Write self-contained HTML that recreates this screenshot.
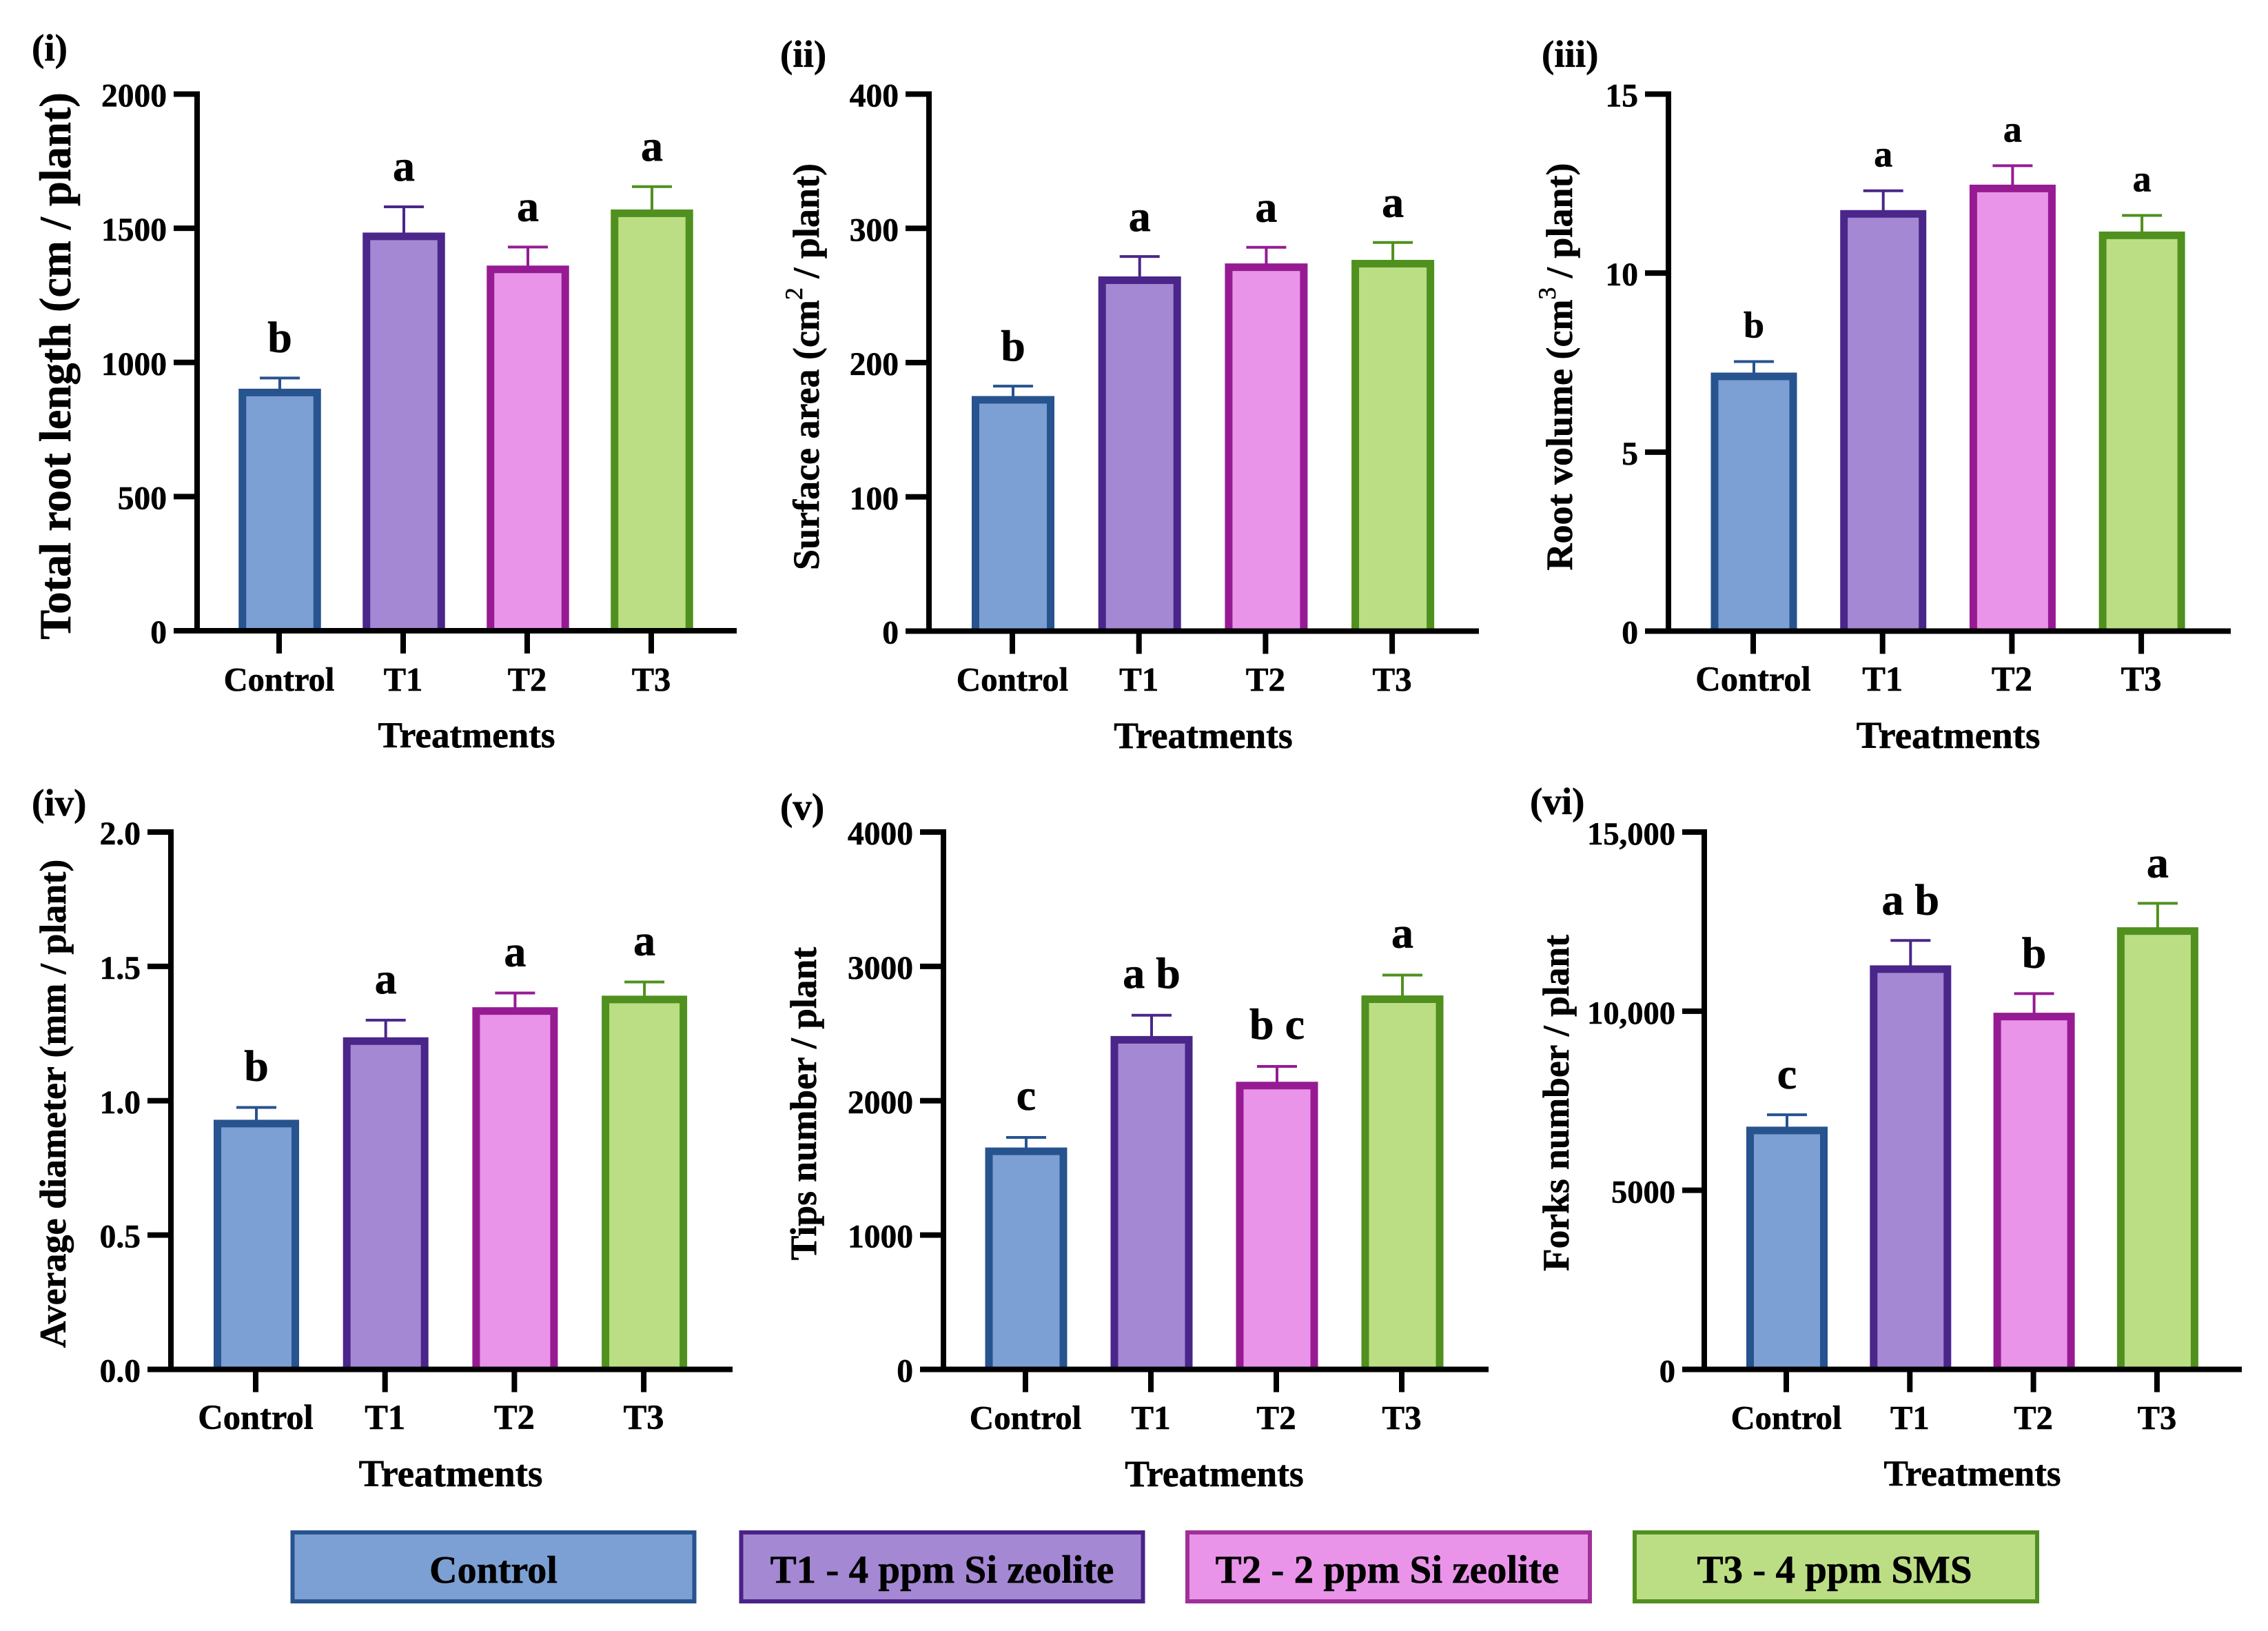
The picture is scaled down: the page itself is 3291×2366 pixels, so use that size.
<!DOCTYPE html>
<html lang="en">
<head>
<meta charset="utf-8">
<title>Root traits by treatment</title>
<style>
html,body{margin:0;padding:0;background:#fff;}
svg{display:block;}
text{font-family:"Liberation Serif",serif;font-weight:bold;fill:#000;stroke:#000;stroke-width:0.6px;}
</style>
</head>
<body>
<svg id="figure" xmlns="http://www.w3.org/2000/svg" width="3291" height="2366" viewBox="0 0 3291 2366">
<rect x="0" y="0" width="3291" height="2366" fill="#fff"/>

<text x="46" y="88" font-size="55">(i)</text>
<text x="1132" y="97" font-size="55">(ii)</text>
<text x="2237" y="97" font-size="55">(iii)</text>
<text x="46" y="1183" font-size="55">(iv)</text>
<text x="1132" y="1189" font-size="55">(v)</text>
<text x="2220" y="1181" font-size="55">(vi)</text>

<text transform="translate(102,531) rotate(-90)" text-anchor="middle" font-size="64.5">Total root length (cm / plant)</text>
<text transform="translate(1188,532) rotate(-90)" text-anchor="middle" font-size="54">Surface area (cm<tspan dy="-24" font-size="36" font-weight="normal">2</tspan><tspan dy="24"> / plant)</tspan></text>
<text transform="translate(2281,532) rotate(-90)" text-anchor="middle" font-size="54">Root volume (cm<tspan dy="-24" font-size="36" font-weight="normal">3</tspan><tspan dy="24"> / plant)</tspan></text>
<text transform="translate(95,1601) rotate(-90)" text-anchor="middle" font-size="54">Average diameter (mm / plant)</text>
<text transform="translate(1184,1601) rotate(-90)" text-anchor="middle" font-size="53.5">Tips number / plant</text>
<text transform="translate(2276,1600) rotate(-90)" text-anchor="middle" font-size="53.5">Forks number / plant</text>

<text x="677" y="1084" text-anchor="middle" font-size="53">Treatments</text>
<text x="1746" y="1085" text-anchor="middle" font-size="53.5">Treatments</text>
<text x="2827" y="1085" text-anchor="middle" font-size="55">Treatments</text>
<text x="654" y="2156" text-anchor="middle" font-size="55">Treatments</text>
<text x="1762" y="2156" text-anchor="middle" font-size="53.5">Treatments</text>
<text x="2862" y="2155" text-anchor="middle" font-size="53">Treatments</text>

<g>
  <g>
    <rect x="424.5" y="2223" width="583" height="100" fill="#7CA0D4" stroke="#27538F" stroke-width="6"/>
    <text x="716" y="2296" text-anchor="middle" font-size="56">Control</text>
  </g>
  <g>
    <rect x="1075.5" y="2223" width="583" height="100" fill="#A488D3" stroke="#4A2287" stroke-width="6"/>
    <text x="1367" y="2296" text-anchor="middle" font-size="57">T1 - 4 ppm Si zeolite</text>
  </g>
  <g>
    <rect x="1723" y="2223" width="584" height="100" fill="#E994E9" stroke="#A03098" stroke-width="6"/>
    <text x="2013" y="2296" text-anchor="middle" font-size="57">T2 - 2 ppm Si zeolite</text>
  </g>
  <g>
    <rect x="2372" y="2223" width="584" height="100" fill="#BBDE85" stroke="#50901F" stroke-width="6"/>
    <text x="2662" y="2296" text-anchor="middle" font-size="57">T3 - 4 ppm SMS</text>
  </g>
</g>
</svg>

<script>
// ---- Chart data ----
const categories = ['Control', 'T1', 'T2', 'T3'];

const rootLengthMeans = [902, 1484, 1361, 1570];
const rootLengthErrors = [40, 96, 69, 85];
const rootLengthLetters = ['b', 'a', 'a', 'a'];
const rootLengthTicks = [0, 500, 1000, 1500, 2000];
const rootLengthTickLabels = ['0', '500', '1000', '1500', '2000'];

const surfaceAreaMeans = [175.1, 264.2, 273.9, 276.5];
const surfaceAreaErrors = [7.4, 14.8, 12, 13];
const surfaceAreaLetters = ['b', 'a', 'a', 'a'];
const surfaceAreaTicks = [0, 100, 200, 300, 400];
const surfaceAreaTickLabels = ['0', '100', '200', '300', '400'];

const rootVolumeMeans = [7.22, 11.76, 12.47, 11.16];
const rootVolumeErrors = [0.31, 0.54, 0.53, 0.45];
const rootVolumeLetters = ['b', 'a', 'a', 'a'];
const rootVolumeTicks = [0, 5, 10, 15];
const rootVolumeTickLabels = ['0', '5', '10', '15'];

const diameterMeans = [0.929, 1.236, 1.348, 1.391];
const diameterErrors = [0.046, 0.064, 0.053, 0.051];
const diameterLetters = ['b', 'a', 'a', 'a'];
const diameterTicks = [0, 0.5, 1, 1.5, 2];
const diameterTickLabels = ['0.0', '0.5', '1.0', '1.5', '2.0'];

const tipsMeans = [1652, 2482, 2141, 2784];
const tipsErrors = [75, 154, 114, 151];
const tipsLetters = ['c', 'a b', 'b c', 'a'];
const tipsTicks = [0, 1000, 2000, 3000, 4000];
const tipsTickLabels = ['0', '1000', '2000', '3000', '4000'];

const forksMeans = [6777, 11278, 9957, 12343];
const forksErrors = [330, 695, 533, 667];
const forksLetters = ['c', 'a b', 'b', 'a'];
const forksTicks = [0, 5000, 10000, 15000];
const forksTickLabels = ['0', '5000', '10,000', '15,000'];

const fillColors = ['#7CA0D4', '#A488D3', '#E994E9', '#BBDE85'];
const strokeColors = ['#27538F', '#4A268A', '#961B93', '#50901F'];

// ---- Drawing ----
const NS = 'http://www.w3.org/2000/svg';
const figure = document.getElementById('figure');

function make(parent, tag, attrs, content) {
  const el = document.createElementNS(NS, tag);
  for (const k in attrs) el.setAttribute(k, attrs[k]);
  if (content !== undefined) el.textContent = content;
  parent.appendChild(el);
  return el;
}

function drawPanel(id, d, g) {
  const y = function (v) { return g.base - (v / g.max) * (g.base - g.top); };
  const x = function (i) { return g.first + i * g.step; };
  const AXIS = 8, STROKE = 11;

  const root = make(figure, 'g', {});
  
  

  d.means.forEach(function (m, i) {
    const cx = x(i) + 1;
    const top = y(m);
    const capY = y(m + d.errors[i]);

    const stem = make(root, 'line', { x1: cx, x2: cx, y1: top + 2, y2: capY, stroke: strokeColors[i], 'stroke-width': 4 });
    
    

    const cap = make(root, 'line', { x1: cx - 29, x2: cx + 29, y1: capY, y2: capY, stroke: strokeColors[i], 'stroke-width': 4 });
    
    

    const left = cx - g.barW / 2 + STROKE / 2;
    const right = cx + g.barW / 2 - STROKE / 2;
    const inner = top + STROKE / 2;
    const bar = make(root, 'path', {
      d: 'M' + left + ' ' + g.base + ' V' + inner + ' H' + right + ' V' + g.base,
      fill: fillColors[i],
      stroke: strokeColors[i],
      'stroke-width': STROKE
    });
    
    

    const letter = make(root, 'text', { x: cx, y: capY - g.gap, 'text-anchor': 'middle', 'font-size': g.letterSize }, d.letters[i]);
    
    
  });

  const yAxis = make(root, 'line', { x1: g.axisX, x2: g.axisX, y1: g.top - AXIS / 2, y2: g.base + AXIS / 2, stroke: '#000', 'stroke-width': AXIS });
  
  

  const xAxis = make(root, 'line', { x1: g.axisX, x2: g.right, y1: g.base, y2: g.base, stroke: '#000', 'stroke-width': AXIS });
  
  

  d.ticks.forEach(function (t, i) {
    const tick = make(root, 'line', { x1: g.tickLeft, x2: g.axisX, y1: y(t), y2: y(t), stroke: '#000', 'stroke-width': AXIS });
    
    

    const label = make(root, 'text', { x: g.tickLeft - 10, y: y(t) + 18, 'text-anchor': 'end', 'font-size': g.tickSize }, d.tickLabels[i]);
    
    
  });

  categories.forEach(function (c, i) {
    const tick = make(root, 'line', { x1: x(i), x2: x(i), y1: g.base, y2: g.base + 33, stroke: '#000', 'stroke-width': AXIS });
    
    

    const label = make(root, 'text', { x: x(i), y: g.catY, 'text-anchor': 'middle', 'font-size': g.catSize }, c);
    
    
  });
}

drawPanel('i',
  { means: rootLengthMeans, errors: rootLengthErrors, letters: rootLengthLetters, ticks: rootLengthTicks, tickLabels: rootLengthTickLabels },
  { max: 2000, top: 136.5, base: 915, axisX: 286, right: 1069, tickLeft: 252, first: 405, step: 180, barW: 119.5, gap: 38, letterSize: 64, tickSize: 47.5, catSize: 48.5, catY: 1002 });
drawPanel('ii',
  { means: surfaceAreaMeans, errors: surfaceAreaErrors, letters: surfaceAreaLetters, ticks: surfaceAreaTicks, tickLabels: surfaceAreaTickLabels },
  { max: 400, top: 136.5, base: 915.5, axisX: 1348, right: 2146, tickLeft: 1314, first: 1469, step: 183.7, barW: 120, gap: 37, letterSize: 64, tickSize: 47.5, catSize: 49, catY: 1002 });
drawPanel('iii',
  { means: rootVolumeMeans, errors: rootVolumeErrors, letters: rootVolumeLetters, ticks: rootVolumeTicks, tickLabels: rootVolumeTickLabels },
  { max: 15, top: 136.5, base: 915.5, axisX: 2421, right: 3237, tickLeft: 2387, first: 2544, step: 187.7, barW: 125, gap: 35, letterSize: 54, tickSize: 47.5, catSize: 50.5, catY: 1002 });
drawPanel('iv',
  { means: diameterMeans, errors: diameterErrors, letters: diameterLetters, ticks: diameterTicks, tickLabels: diameterTickLabels },
  { max: 2, top: 1207, base: 1986.5, axisX: 248, right: 1063, tickLeft: 214, first: 371, step: 187.7, barW: 124, gap: 39, letterSize: 64, tickSize: 47.5, catSize: 50.5, catY: 2073 });
drawPanel('v',
  { means: tipsMeans, errors: tipsErrors, letters: tipsLetters, ticks: tipsTicks, tickLabels: tipsTickLabels },
  { max: 4000, top: 1207, base: 1986.5, axisX: 1369, right: 2160, tickLeft: 1335, first: 1488, step: 182, barW: 119, gap: 40, letterSize: 64, tickSize: 47.5, catSize: 49, catY: 2073 });
drawPanel('vi',
  { means: forksMeans, errors: forksErrors, letters: forksLetters, ticks: forksTicks, tickLabels: forksTickLabels },
  { max: 15000, top: 1207, base: 1986.5, axisX: 2473, right: 3253, tickLeft: 2441, first: 2592, step: 179.3, barW: 118, gap: 38, letterSize: 64, tickSize: 46.5, catSize: 48.5, catY: 2073 });
</script>
</body>
</html>
